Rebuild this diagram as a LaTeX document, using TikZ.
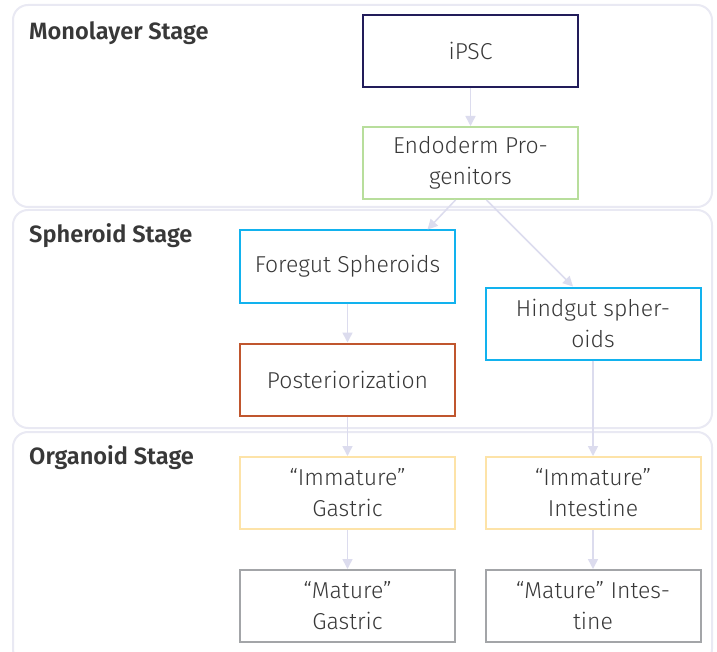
\documentclass[tikz,border=0pt]{standalone}
\usepackage{fontspec}
\setmainfont{Fira Sans Light}[BoldFont={Fira Sans SemiBold}]
\usetikzlibrary{arrows.meta, positioning}

\definecolor{lanegray}{HTML}{E9E9F3}
\definecolor{linkgray}{HTML}{DCDCEE}
\definecolor{textgray}{HTML}{383838}
\definecolor{ipscnavy}{HTML}{221C5A}
\definecolor{endogreen}{HTML}{B8DE9C}
\definecolor{spherecyan}{HTML}{12B2EE}
\definecolor{postbrown}{HTML}{C0562E}
\definecolor{immyellow}{HTML}{FDE3A8}
\definecolor{matgray}{HTML}{A3A5A8}

\begin{document}
\begin{tikzpicture}[
  x=1pt, y=-1pt,
  font=\fontsize{23}{31}\selectfont, text=textgray,
  lane/.style={draw=lanegray, line width=2pt, rounded corners=15pt, fill=white},
  lanetitle/.style={anchor=base west, inner sep=0pt, font=\fontsize{23.6}{26}\selectfont\bfseries},
  box/.style={draw, line width=2pt, fill=white, align=center, minimum width=215pt, minimum height=72pt, inner sep=0pt},
  arrow/.style={-{Triangle[length=10pt,width=10pt]}, draw=linkgray, line width=1.5pt}
]
\useasboundingbox (0,0) rectangle (717,652);

% stage lanes
\draw[lane] (13,5) rectangle (712,207);
\draw[lane] (13,210) rectangle (712,428);
\draw[lane] (13,432) rectangle (712,664);
\node[lanetitle] (monotitle) at (29,40) {Monolayer Stage};
\node[lanetitle] (sphtitle) at (29,243) {Spheroid Stage};
\node[lanetitle] (orgtitle) at (29,464) {Organoid Stage};

% cells
\node[box, draw=ipscnavy] (ipsc) at (470.5,51) {iPSC};
\node[box, draw=endogreen] (endo) at (470.5,163) {Endoderm Pro-\\genitors};
\node[box, draw=spherecyan] (fore) at (347.5,266.5) {Foregut Spheroids};
\node[box, draw=postbrown] (post) at (347.5,379.5) {Posteriorization};
\node[box, draw=spherecyan] (hind) at (593,323.5) {Hindgut spher-\\oids};
\node[box, draw=immyellow] (imgas) at (347.5,493) {“Immature”\\Gastric};
\node[box, draw=immyellow] (imint) at (593,493) {“Immature”\\Intestine};
\node[box, draw=matgray] (magas) at (347.5,606) {“Mature”\\Gastric};
\node[box, draw=matgray] (maint) at (593,606) {“Mature” Intes-\\tine};

\draw[arrow] (ipsc) -- (endo);
\draw[arrow] ([xshift=-15pt]endo.south) -- ([xshift=80pt]fore.north);
\draw[arrow] ([xshift=16pt]endo.south) -- ([xshift=-20pt]hind.north);
\draw[arrow] (fore) -- (post);
\draw[arrow] (post) -- (imgas);
\draw[arrow] (hind) -- (imint);
\draw[arrow] (imgas) -- (magas);
\draw[arrow] (imint) -- (maint);
\end{tikzpicture}
\end{document}
